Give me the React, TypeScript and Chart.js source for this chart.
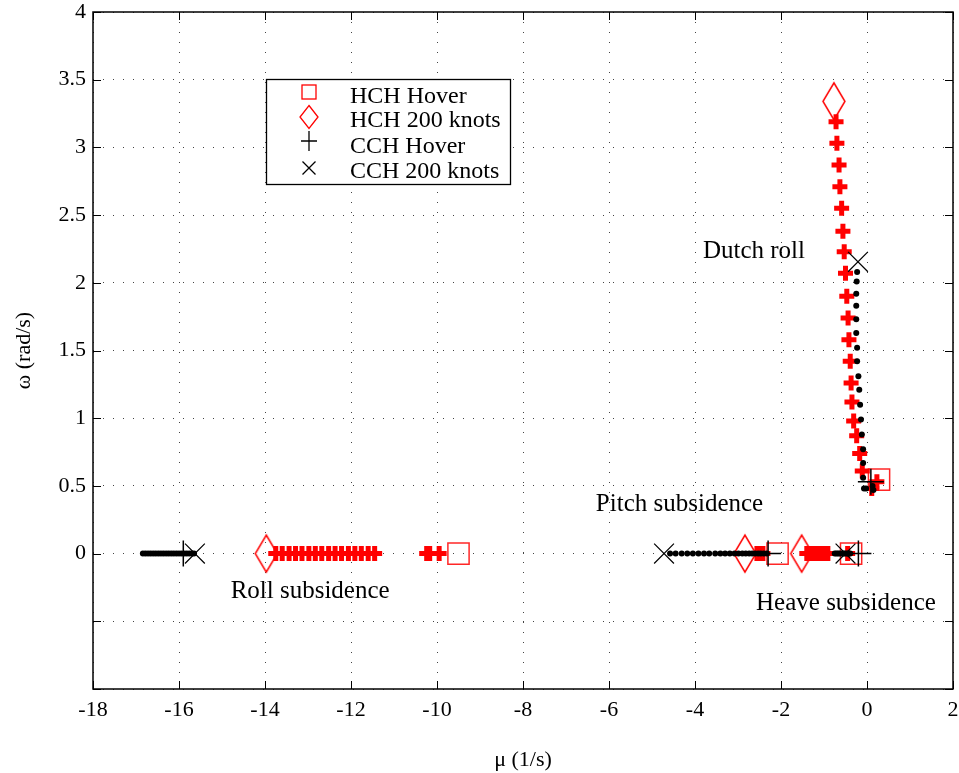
import React, { useEffect, useRef } from 'react';
import { Chart, registerables } from 'chart.js';

Chart.register(...registerables);

// ---- Data (mu [1/s], omega [rad/s]) ----
const HCH_HOVER: [number, number][] = [[-9.5, 0], [-2.08, 0], [-0.37, 0], [0.28, 0.546]];
const HCH_200: [number, number][] = [[-13.97, 0], [-2.84, 0], [-1.52, 0], [-0.77, 3.34]];
const CCH_HOVER: [number, number][] = [[-15.9, 0], [-2.3, 0], [-0.2, 0], [0.09, 0.53]];
const CCH_200: [number, number][] = [[-15.63, 0], [-4.72, 0], [-0.5, 0], [-0.21, 2.155]];

// HCH transition locus (red crosses)
const HCH_DUTCH: [number, number][] = [
  [-0.72, 3.19], [-0.7, 3.03], [-0.65, 2.87], [-0.63, 2.71], [-0.59, 2.55], [-0.56, 2.38],
  [-0.53, 2.23], [-0.5, 2.07], [-0.47, 1.9], [-0.44, 1.74], [-0.42, 1.58], [-0.39, 1.42],
  [-0.37, 1.26], [-0.35, 1.12], [-0.31, 0.98], [-0.24, 0.87], [-0.17, 0.74], [-0.11, 0.61],
  [0.23, 0.53], [0.11, 0.48],
];
const HCH_ROLL: [number, number][] = [
  [-13.75, 0], [-13.6, 0], [-13.44, 0], [-13.29, 0], [-13.14, 0], [-12.98, 0], [-12.83, 0],
  [-12.68, 0], [-12.52, 0], [-12.37, 0], [-12.22, 0], [-12.06, 0], [-11.91, 0], [-11.76, 0],
  [-11.6, 0], [-11.45, 0], [-10.24, 0], [-10.17, 0], [-9.95, 0],
];
const HCH_PITCH: [number, number][] = [[-2.56, 0], [-2.49, 0], [-2.42, 0]];
const HCH_HEAVE: [number, number][] = [
  [-1.4, 0], [-1.33, 0], [-1.26, 0], [-1.19, 0], [-1.12, 0], [-1.05, 0], [-0.98, 0], [-0.91, 0], [-0.45, 0],
];

// CCH transition locus (black dots)
const CCH_DUTCH: [number, number][] = [
  [-0.23, 2.08], [-0.24, 2.01], [-0.25, 1.92], [-0.25, 1.83], [-0.25, 1.73], [-0.25, 1.63],
  [-0.23, 1.52], [-0.23, 1.42], [-0.2, 1.31], [-0.18, 1.21], [-0.16, 1.1], [-0.14, 0.99],
  [-0.12, 0.88], [-0.09, 0.77], [-0.09, 0.67], [-0.09, 0.56], [-0.07, 0.48], [-0.02, 0.48],
  [0.13, 0.5], [0.15, 0.47],
];
const CCH_ROLL: [number, number][] = [
  [-16.84, 0], [-16.78, 0], [-16.72, 0], [-16.66, 0], [-16.6, 0], [-16.54, 0], [-16.48, 0],
  [-16.42, 0], [-16.36, 0], [-16.3, 0], [-16.24, 0], [-16.18, 0], [-16.12, 0], [-16.06, 0],
  [-16.0, 0], [-15.94, 0], [-15.88, 0], [-15.82, 0], [-15.76, 0], [-15.7, 0], [-15.65, 0],
];
const CCH_PITCH: [number, number][] = [
  [-4.58, 0], [-4.45, 0], [-4.31, 0], [-4.18, 0], [-4.05, 0], [-3.92, 0], [-3.79, 0], [-3.67, 0],
  [-3.53, 0], [-3.41, 0], [-3.3, 0], [-3.19, 0], [-3.08, 0], [-2.99, 0], [-2.9, 0], [-2.82, 0],
  [-2.74, 0], [-2.67, 0], [-2.6, 0], [-2.53, 0], [-2.47, 0], [-2.4, 0], [-2.33, 0],
];
const CCH_HEAVE: [number, number][] = [
  [-0.75, 0], [-0.71, 0], [-0.67, 0], [-0.63, 0], [-0.59, 0], [-0.55, 0], [-0.51, 0], [-0.47, 0],
  [-0.43, 0], [-0.39, 0],
];

const ANNOTATIONS: { text: string; x: number; y: number }[] = [
  { text: 'Dutch roll', x: -2.63, y: 2.23 },
  { text: 'Pitch subsidence', x: -4.36, y: 0.36 },
  { text: 'Roll subsidence', x: -12.95, y: -0.28 },
  { text: 'Heave subsidence', x: -0.49, y: -0.37 },
];

const LEGEND_LABELS = ['HCH Hover', 'HCH 200 knots', 'CCH Hover', 'CCH 200 knots'];

const X_MIN = -18, X_MAX = 2, X_STEP = 2;
const Y_MIN = -1, Y_MAX = 4, Y_STEP = 0.5;

const FONT = 'Liberation Serif';
const RED = '#ff0000';

const toPts = (arr: [number, number][]) => arr.map(([x, y]) => ({ x, y }));

function makeDiamond(w: number, h: number, lw: number, color: string) {
  const c = document.createElement('canvas');
  c.width = w + 4;
  c.height = h + 4;
  const g = c.getContext('2d')!;
  g.strokeStyle = color;
  g.lineWidth = lw;
  const cx = c.width / 2, cy = c.height / 2;
  g.beginPath();
  g.moveTo(cx, cy - h / 2);
  g.lineTo(cx + w / 2, cy);
  g.lineTo(cx, cy + h / 2);
  g.lineTo(cx - w / 2, cy);
  g.closePath();
  g.stroke();
  return c;
}

const framePlugin = {
  id: 'frame',
  afterDatasetsDraw(chart: any) {
    const { ctx, chartArea } = chart;
    const { left, right, top, bottom } = chartArea;
    const xs = chart.scales.x, ys = chart.scales.y;
    ctx.save();
    ctx.strokeStyle = '#000';
    ctx.lineWidth = 1;
    const tl = 8;
    ctx.beginPath();
    xs.ticks.forEach((t: any) => {
      const px = Math.round(xs.getPixelForValue(t.value)) + 0.5;
      ctx.moveTo(px, bottom);
      ctx.lineTo(px, bottom - tl);
      ctx.moveTo(px, top);
      ctx.lineTo(px, top + tl);
    });
    ys.ticks.forEach((t: any) => {
      const py = Math.round(ys.getPixelForValue(t.value)) + 0.5;
      ctx.moveTo(left, py);
      ctx.lineTo(left + tl, py);
      ctx.moveTo(right, py);
      ctx.lineTo(right - tl, py);
    });
    ctx.stroke();
    ctx.lineWidth = 1.5;
    ctx.strokeRect(left, top, right - left, bottom - top);
    ctx.restore();
  },
};

const textPlugin = {
  id: 'texts',
  afterDraw(chart: any) {
    const { ctx, chartArea } = chart;
    const xs = chart.scales.x, ys = chart.scales.y;
    ctx.save();
    ctx.fillStyle = '#000';
    ctx.font = `25px "${FONT}"`;
    ctx.textAlign = 'center';
    ctx.textBaseline = 'middle';
    ANNOTATIONS.forEach((a) => {
      ctx.fillText(a.text, xs.getPixelForValue(a.x), ys.getPixelForValue(a.y));
    });

    // legend
    const bx = chartArea.left + 173, by = chartArea.top + 67, bw = 244, bh = 105;
    ctx.fillStyle = '#fff';
    ctx.fillRect(bx, by, bw, bh);
    ctx.strokeStyle = '#000';
    ctx.lineWidth = 1.3;
    ctx.strokeRect(bx + 0.5, by + 0.5, bw, bh);
    const mx = bx + 43;
    const rows = [17, 41, 67, 92];
    ctx.textAlign = 'left';
    ctx.fillStyle = '#000';
    ctx.font = `24px "${FONT}"`;
    LEGEND_LABELS.forEach((lab, i) => {
      ctx.fillText(lab, bx + 84, by + rows[i] + 1);
    });
    // markers
    ctx.lineWidth = 1.3;
    ctx.strokeStyle = RED;
    ctx.strokeRect(mx - 7, by + rows[0] - 7 - 4, 14, 14);
    ctx.beginPath();
    const dy = by + rows[1] - 3;
    ctx.moveTo(mx, dy - 11.5);
    ctx.lineTo(mx + 9, dy);
    ctx.lineTo(mx, dy + 11.5);
    ctx.lineTo(mx - 9, dy);
    ctx.closePath();
    ctx.stroke();
    ctx.strokeStyle = '#000';
    ctx.beginPath();
    const py = by + rows[2] - 5;
    ctx.moveTo(mx - 8, py);
    ctx.lineTo(mx + 8, py);
    ctx.moveTo(mx, py - 10);
    ctx.lineTo(mx, py + 10);
    const xy = by + rows[3] - 3;
    ctx.moveTo(mx - 6.5, xy - 6.5);
    ctx.lineTo(mx + 6.5, xy + 6.5);
    ctx.moveTo(mx + 6.5, xy - 6.5);
    ctx.lineTo(mx - 6.5, xy + 6.5);
    ctx.stroke();
    ctx.restore();
  },
};

export default function App() {
  const ref = useRef<HTMLCanvasElement | null>(null);
  useEffect(() => {
    if (!ref.current) return;
    const diamond = makeDiamond(22, 37, 1.5, RED);
    const tickFont = { family: FONT, size: 22, lineHeight: 1 };
    const chart = new Chart(ref.current, {
      type: 'scatter',
      data: {
        datasets: [
          {
            label: 'CCH Hover', data: toPts(CCH_HOVER), pointStyle: 'cross', pointRadius: 13,
            borderColor: '#000', backgroundColor: '#000', borderWidth: 1.5,
          },
          {
            label: 'CCH 200 knots', data: toPts(CCH_200), pointStyle: 'crossRot', pointRadius: 14,
            borderColor: '#000', backgroundColor: '#000', borderWidth: 1.2,
          },
          {
            label: 'CCH locus', data: toPts([...CCH_DUTCH, ...CCH_ROLL, ...CCH_PITCH, ...CCH_HEAVE]),
            pointStyle: 'circle', pointRadius: 3, backgroundColor: '#000', borderColor: '#000', borderWidth: 0,
          },
          {
            label: 'HCH Hover', data: toPts(HCH_HOVER), pointStyle: 'rect', pointRadius: 15,
            borderColor: 'rgba(255,0,0,0.85)', backgroundColor: 'rgba(0,0,0,0)', borderWidth: 1.5,
          },
          {
            label: 'HCH 200 knots', data: toPts(HCH_200), pointStyle: diamond as any, pointRadius: 18,
            borderColor: RED, backgroundColor: 'rgba(0,0,0,0)', borderWidth: 1.5,
          },
          {
            label: 'HCH locus', data: toPts([...HCH_DUTCH, ...HCH_ROLL, ...HCH_PITCH, ...HCH_HEAVE]),
            pointStyle: 'cross', pointRadius: 7.5, borderColor: RED, backgroundColor: RED, borderWidth: 5,
          },
        ],
      },
      options: {
        animation: false,
        responsive: false,
        events: [],
        layout: { autoPadding: false, padding: { top: 12, right: 6, left: 0, bottom: 0 } },
        plugins: { legend: { display: false }, tooltip: { enabled: false } },
        scales: {
          x: {
            type: 'linear', min: X_MIN, max: X_MAX,
            ticks: { stepSize: X_STEP, font: tickFont, color: '#000', padding: 10 },
            grid: { color: '#444', lineWidth: 1, drawTicks: false, borderDash: [1, 9] } as any,
            border: { display: false, dash: [1, 9] },
            title: { display: true, text: 'μ (1/s)', font: { family: FONT, size: 22 }, color: '#000', padding: 0 },
            afterFit: (s: any) => { s.height = 84; s.paddingLeft = 0; s.paddingRight = 0; },
          },
          y: {
            type: 'linear', min: Y_MIN, max: Y_MAX,
            ticks: {
              stepSize: Y_STEP, font: tickFont, color: '#000', padding: 7,
              callback: (v: any) => (Number(v) < 0 ? '' : String(v)),
            },
            grid: { color: '#444', lineWidth: 1, drawTicks: false, borderDash: [1, 9] } as any,
            border: { display: false, dash: [1, 9] },
            title: { display: true, text: 'ω (rad/s)', font: { family: FONT, size: 22 }, color: '#000', padding: { top: 11, bottom: 0 } },
            afterFit: (s: any) => { s.width = 93; s.paddingTop = 0; s.paddingBottom = 0; },
          },
        },
      },
      plugins: [framePlugin, textPlugin],
    });
    return () => chart.destroy();
  }, []);
  return (
    <canvas
      ref={ref}
      width={959}
      height={773}
      style={{ position: 'absolute', left: 0, top: 0, display: 'block', background: '#fff' }}
    />
  );
}
